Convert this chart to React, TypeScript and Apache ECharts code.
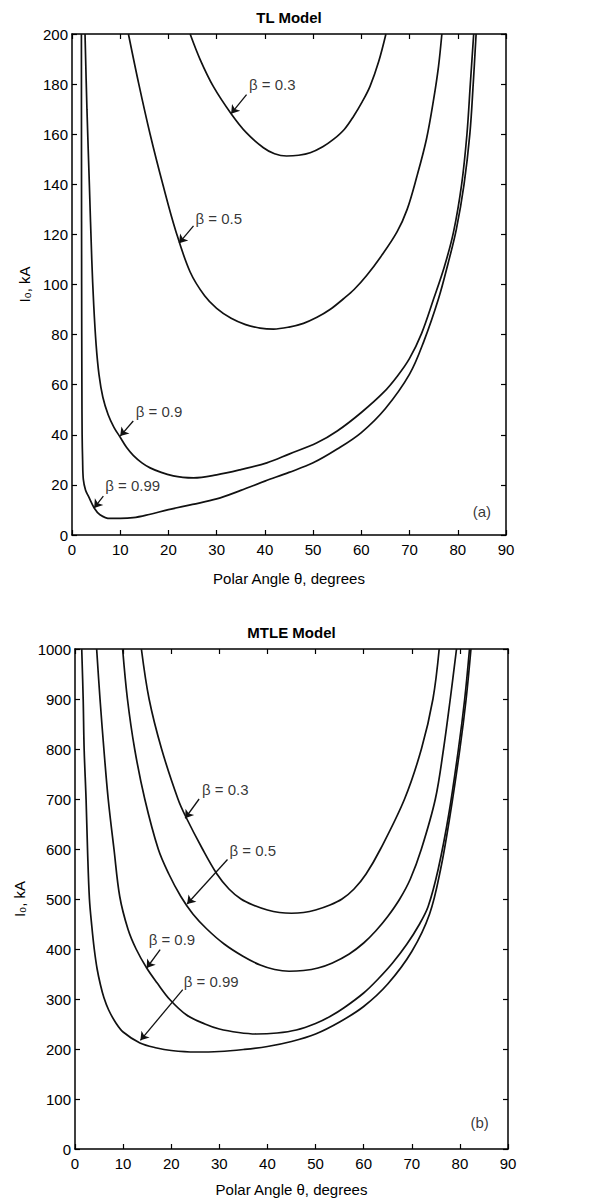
import React, { useEffect, useRef } from "react";
import * as echarts from "echarts";

// ---------- data (θ in degrees, I0 in kA) ----------
const xTicks = [0, 10, 20, 30, 40, 50, 60, 70, 80, 90];

// TL model (panel a)
const tlBeta03 = [[24.5,200],[26.6,189.7],[29.3,179.1],[33.0,168.2],[36.2,160.5],[39.7,154.6],[42,152.2],[44.5,151.3],[47,151.6],[49.4,152.6],[52,155],[54.2,157.9],[56.5,162],[58.4,167.2],[60.2,173],[61.8,179.1],[63.6,189],[65.1,200]];
const tlBeta05 = [[11.7,200],[13.8,180.5],[16.2,160],[18.9,139.5],[21.5,121.5],[24.5,105],[27.5,95.5],[30,90.5],[33,86.5],[36,84],[39,82.6],[41.8,82.2],[45,83],[48,84.5],[50.8,86.9],[53.5,90],[56.3,94.3],[58.5,98],[61.1,103.6],[64,111],[67.4,121],[69.5,130],[71.5,143],[73.5,158],[75,174],[76,187],[76.7,200]];
const tlBeta09 = [[2.7,200],[3.1,170],[3.6,140],[4.1,110],[4.5,92],[5.0,76],[5.6,64],[6.4,55],[7.5,48],[8.7,43],[10,39],[11.3,35],[12.7,31.8],[14.5,28.8],[16.2,26.8],[18.5,25],[21,23.6],[23,23],[25.2,22.8],[30,24],[35,26.1],[40.4,28.8],[45,32.3],[50.8,36.8],[55,41.5],[60,48.9],[64.6,56.9],[67.5,63.5],[70,70.5],[72.5,80.5],[75,94.3],[77.2,107],[79.1,120.8],[80.8,140],[81.9,160],[82.6,180],[83.3,200]];
const tlBeta099 = [[1.95,200],[1.97,150],[2.0,100],[2.05,60],[2.1,40],[2.2,30],[2.35,22.2],[2.8,18],[3.4,15.5],[4.6,10.8],[5.8,8.1],[7.9,6.6],[10,6.6],[12.7,6.9],[16,8.2],[20,10.1],[25,12.2],[30,14.4],[35,17.8],[40,21.5],[45,25],[50,28.8],[55,34.3],[60,40.9],[65,50.5],[70,64.2],[73,77.5],[76,94.3],[78,108.5],[79.7,122],[81.3,140],[82.5,160],[83.2,180],[83.8,200]];

// MTLE model (panel b)
const mtleBeta03 = [[13.8,1000],[15.4,900],[18.0,800],[21.4,700],[23,665],[26.5,600],[29.5,550],[32,520],[34.5,500],[37,488],[40,478],[42.5,473],[45,471.5],[47.5,473],[50,478],[53,488],[55.5,500],[58,520],[60.5,550],[63.5,600],[68.5,700],[72,800],[74.4,900],[75.7,1000]];
const mtleBeta05 = [[9.9,1000],[10.9,900],[12.4,800],[14.5,700],[17.3,600],[19.5,550],[22,505],[24.5,470],[27.4,440],[31,410],[35,385],[38.5,368],[41.5,359],[44.5,355.5],[47.5,357],[50.5,362],[53.5,372],[57,390],[60,412],[62.5,436],[65,465],[67.5,500],[69.7,540],[72,600],[74.9,700],[76.6,800],[78,900],[79.3,1000]];
const mtleBeta09 = [[4.5,1000],[5.2,900],[6.0,800],[6.9,700],[8.1,600],[9.3,505],[11,440],[12.7,400],[14.9,362],[17,333],[19.7,299],[23.2,268],[27,250],[30,240],[34,233],[37.7,230],[42,232],[46,238],[50,251],[53,265],[56,283],[60,312],[63,340],[66,372],[69,410],[71.5,448],[73.4,485],[75.5,560],[77.7,670],[79.7,800],[81,900],[82.0,1000]];
const mtleBeta099 = [[1.4,1000],[1.7,900],[1.9,800],[2.3,700],[2.6,600],[3.0,500],[3.5,445],[4.0,400],[4.6,360],[5.3,328],[6.0,303],[7.0,278],[8.5,252],[10,234],[13.5,212],[17,202],[20,197],[25,194],[30,195],[35,199],[40,205],[45,215],[50,230],[55,254],[60,285],[65,330],[70,395],[73.7,470],[76,560],[78,670],[80,800],[81.3,900],[82.3,1000]];

// annotations: [θ, I, text]
const tlLabels = [[36.6,179.7,"β = 0.3"],[25.5,126.5,"β = 0.5"],[13.1,49.5,"β = 0.9"],[6.8,19.8,"β = 0.99"]];
const tlArrows = [[[36.2,175.8],[33.0,168.2]],[[25.2,123.4],[22.2,116.5]],[[12.7,45.5],[10.0,39.5]],[[6.5,15.5],[4.6,10.8]]];
const tlPanel = [[85,9.2,"(a)"]];
const mtleLabels = [[26.3,718.5,"β = 0.3"],[32.0,597,"β = 0.5"],[15.2,420,"β = 0.9"],[22.5,335,"β = 0.99"]];
const mtleArrows = [[[25.8,700],[22.9,661.5]],[[31.7,579],[23.3,490]],[[17.7,398.7],[14.9,362]],[[22.4,318.7],[13.6,217.3]]];
const mtlePanel = [[84.1,53,"(b)"]];

const FONT = "'Liberation Sans', Arial, Helvetica, sans-serif";
const INK = "#000";

function xAxisDef(grid: number, pos: "bottom" | "top", name: string) {
  const bottom = pos === "bottom";
  return {
    type: "value", gridIndex: grid, position: pos, min: 0, max: 90, interval: 10,
    name, nameLocation: "middle",
    nameGap: bottom ? (grid === 0 ? 36 : 33) : 9,
    nameTextStyle: { fontFamily: FONT, fontSize: 15, color: INK, fontWeight: bottom ? "normal" : "bold" },
    axisLine: { show: true, onZero: false, lineStyle: { color: "#000", width: 1.5 } },
    axisTick: { show: true, inside: true, length: 5, lineStyle: { color: "#000", width: 1.2 } },
    axisLabel: { show: bottom, fontFamily: FONT, fontSize: 15, color: INK, margin: 7 },
    splitLine: { show: false },
  };
}
function yAxisDef(grid: number, pos: "left" | "right", max: number, interval: number) {
  const left = pos === "left";
  return {
    type: "value", gridIndex: grid, position: pos, min: 0, max, interval,
    name: left ? "I₀, kA" : "", nameLocation: "middle", nameGap: grid === 0 ? 34 : 37,
    nameTextStyle: { fontFamily: FONT, fontSize: 15, color: INK },
    axisLine: { show: true, onZero: false, lineStyle: { color: "#000", width: 1.5 } },
    axisTick: { show: true, inside: true, length: 5, lineStyle: { color: "#000", width: 1.2 } },
    axisLabel: { show: left, fontFamily: FONT, fontSize: 15, color: INK, margin: 4, formatter: (v: number) => String(v) },
    splitLine: { show: false },
  };
}
function curve(data: number[][], xi: number, yi: number) {
  return {
    type: "line", xAxisIndex: xi, yAxisIndex: yi, data, showSymbol: false, symbol: "none",
    smooth: 0.35, clip: true,
    lineStyle: { color: "#111", width: 1.7 },
  };
}
function labels(data: any[], xi: number, yi: number, pos: string) {
  return {
    type: "scatter", xAxisIndex: xi, yAxisIndex: yi, data, symbolSize: 1, silent: true,
    itemStyle: { color: "rgba(0,0,0,0)" },
    label: {
      show: true, position: pos, distance: 0, formatter: (p: any) => p.data[2],
      fontFamily: FONT, fontSize: 15, color: INK,
    },
  };
}
function arrows(data: number[][][], xi: number, yi: number) {
  return {
    type: "lines", coordinateSystem: "cartesian2d", xAxisIndex: xi, yAxisIndex: yi, silent: true,
    data: data.map((c) => ({ coords: c })),
    symbol: ["none", "arrow"], symbolSize: 8,
    lineStyle: { color: "#111", width: 1.3, opacity: 1 },
  };
}

export default function App() {
  const ref = useRef<HTMLDivElement>(null);
  useEffect(() => {
    document.body.style.margin = "0";
    if (!ref.current) return;
    const chart = echarts.init(ref.current, null, { renderer: "svg" });
    chart.setOption({
      animation: false,
      backgroundColor: "#fff",
      grid: [
        { left: 72, top: 34, width: 434, height: 501 },
        { left: 75, top: 649, width: 433, height: 500 },
      ],
      xAxis: [
        xAxisDef(0, "bottom", "Polar Angle θ, degrees"),
        xAxisDef(0, "top", "TL Model"),
        xAxisDef(1, "bottom", "Polar Angle θ, degrees"),
        xAxisDef(1, "top", "MTLE Model"),
      ],
      yAxis: [
        yAxisDef(0, "left", 200, 20),
        yAxisDef(0, "right", 200, 20),
        yAxisDef(1, "left", 1000, 100),
        yAxisDef(1, "right", 1000, 100),
      ],
      series: [
        curve(tlBeta03, 0, 0), curve(tlBeta05, 0, 0), curve(tlBeta09, 0, 0), curve(tlBeta099, 0, 0),
        curve(mtleBeta03, 2, 2), curve(mtleBeta05, 2, 2), curve(mtleBeta09, 2, 2), curve(mtleBeta099, 2, 2),
        labels(tlLabels, 0, 0, "right"), labels(tlPanel, 0, 0, "inside"), arrows(tlArrows, 0, 0),
        labels(mtleLabels, 2, 2, "right"), labels(mtlePanel, 2, 2, "inside"), arrows(mtleArrows, 2, 2),
      ],
    });
    return () => chart.dispose();
  }, []);
  return <div ref={ref} style={{ width: 604, height: 1200 }} />;
}
